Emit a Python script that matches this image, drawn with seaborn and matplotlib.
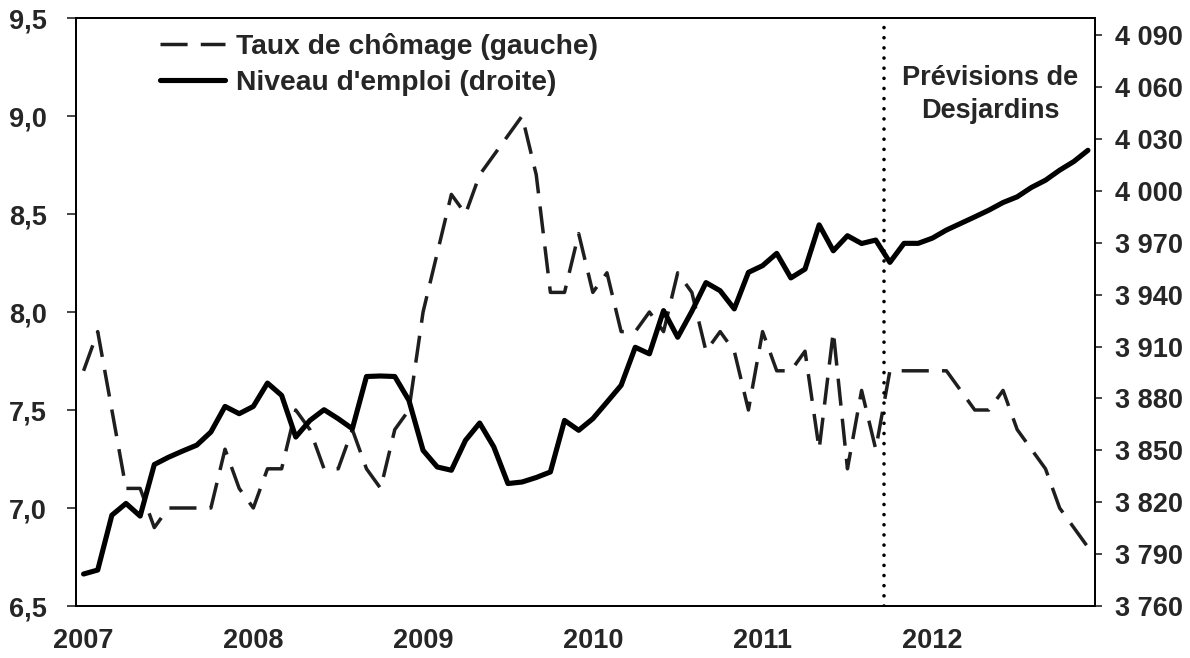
import matplotlib
matplotlib.use("Agg")
import matplotlib.pyplot as plt
import seaborn as sns
import numpy as np
import pandas as pd

# ---- data (monthly, Jan 2007 - Dec 2012) ----
months = list(range(72))
year_labels = ["2007", "2008", "2009", "2010", "2011", "2012"]
year_positions = [0, 12, 24, 36, 48, 60]

taux_chomage = [
    7.7, 7.9, 7.5, 7.1, 7.1, 6.9, 7.0, 7.0, 7.0, 7.0, 7.3, 7.1,
    7.0, 7.2, 7.2, 7.5, 7.4, 7.2, 7.2, 7.4, 7.2, 7.1, 7.4, 7.5,
    8.0, 8.3, 8.6, 8.5, 8.7, 8.8, 8.9, 9.0, 8.7, 8.1, 8.1, 8.4,
    8.1, 8.2, 7.9, 7.9, 8.0, 7.9, 8.2, 8.1, 7.8, 7.9, 7.8, 7.5,
    7.9, 7.7, 7.7, 7.8, 7.3, 7.9, 7.2, 7.6, 7.3, 7.7, 7.7, 7.7,
    7.7, 7.7, 7.6, 7.5, 7.5, 7.6, 7.4, 7.3, 7.2, 7.0, 6.9, 6.8,
]

niveau_emploi = [
    3778.5, 3780.8, 3812.5, 3819.3, 3812.0, 3841.8, 3846.0, 3849.6, 3853.0, 3860.6, 3875.4, 3871.2,
    3875.4, 3888.9, 3881.8, 3857.7, 3867.3, 3873.5, 3868.3, 3862.5, 3892.7, 3893.0, 3892.7, 3878.9,
    3850.0, 3840.4, 3838.5, 3855.8, 3865.8, 3852.0, 3830.8, 3831.7, 3834.3, 3837.5, 3867.3, 3861.6,
    3868.3, 3877.9, 3887.6, 3909.6, 3905.8, 3930.8, 3915.4, 3930.4, 3947.0, 3942.3, 3931.8, 3952.9,
    3956.8, 3963.9, 3949.7, 3954.8, 3980.4, 3965.4, 3974.1, 3969.6, 3971.6, 3958.7, 3969.7, 3969.7,
    3972.7, 3977.4, 3981.2, 3985.0, 3988.9, 3993.3, 3996.6, 4002.0, 4006.2, 4012.0, 4017.0, 4023.5,
]

left_ticks = [6.5, 7.0, 7.5, 8.0, 8.5, 9.0, 9.5]
right_ticks = [3760, 3790, 3820, 3850, 3880, 3910, 3940, 3970, 4000, 4030, 4060, 4090]
forecast_start = 56.55

label_chomage = "Taux de chômage (gauche)"
label_emploi = "Niveau d'emploi (droite)"
annotation = ["Prévisions de", "Desjardins"]

FS = 19.5
FS_LEG = 20.3

# ---- style ----
sns.set_style("white")
plt.rcParams["font.family"] = ["Liberation Sans", "DejaVu Sans"]
plt.rcParams["font.weight"] = "bold"

fig = plt.figure(figsize=(11.9, 6.58), dpi=100)
ax = fig.add_axes([76.5 / 1190, 1 - 606 / 658, (1095 - 76.5) / 1190, (606 - 18) / 658])
ax2 = ax.twinx()

df = pd.DataFrame({"mois": months, "chomage": taux_chomage, "emploi": niveau_emploi})

sns.lineplot(data=df, x="mois", y="chomage", ax=ax, color="#1e1e1e",
             linewidth=2.5, linestyle=(0, (7.8, 3.8)), label=label_chomage, legend=False)
sns.lineplot(data=df, x="mois", y="emploi", ax=ax2, color="black",
             linewidth=3.7, label=label_emploi, legend=False)

ax.set_xlim(-0.5, 71.5)
ax.set_ylim(6.5, 9.5)
ax2.set_ylim(3760, 4100)

# forecast separator
ax.axvline(forecast_start, color="black", linewidth=2.6, linestyle=(0, (0.01, 2.8)),
           dash_capstyle="round")

# ticks
ax.set_xticks(year_positions)
ax.set_xticklabels(year_labels)
ax.set_yticks(left_ticks)
ax.set_yticklabels([f"{v:.1f}".replace(".", ",") for v in left_ticks])
ax2.set_yticks(right_ticks)
ax2.set_yticklabels([f"{v:,.0f}".replace(",", " ") for v in right_ticks])

ax.tick_params(axis="x", length=0, pad=16, labelsize=FS)
ax.tick_params(axis="y", direction="out", length=6.5, width=1.2, pad=15, labelsize=FS, left=True)
ax2.tick_params(axis="y", direction="out", length=5, width=1.2, pad=9.5, labelsize=FS, right=True)
for lab in ax.get_xticklabels() + ax.get_yticklabels() + ax2.get_yticklabels():
    lab.set_fontweight("bold")

ax.set_xlabel("")
ax.set_ylabel("")
ax2.set_ylabel("")

for a in (ax, ax2):
    for s in a.spines.values():
        s.set_visible(True)
        s.set_color("black")
        s.set_linewidth(1.3)

# legend
h1 = ax.get_lines()[0]
h2 = ax2.get_lines()[0]
leg = ax2.legend([h1, h2], [label_chomage, label_emploi], loc="upper left",
                 bbox_to_anchor=(0.075, 0.986), frameon=False, handlelength=2.3,
                 handletextpad=0.4, labelspacing=0.34, borderaxespad=0, borderpad=0.25,
                 prop={"size": FS_LEG, "weight": "bold"})

# annotation
ax.text(64.1, 1 - (85 - 18) / 588, annotation[0], transform=ax.get_xaxis_transform(),
        ha="center", va="baseline", fontsize=FS, fontweight="bold")
ax.text(64.1, 1 - (118 - 18) / 588, annotation[1], transform=ax.get_xaxis_transform(),
        ha="center", va="baseline", fontsize=FS, fontweight="bold")

fig.savefig("out.png", dpi=100)
